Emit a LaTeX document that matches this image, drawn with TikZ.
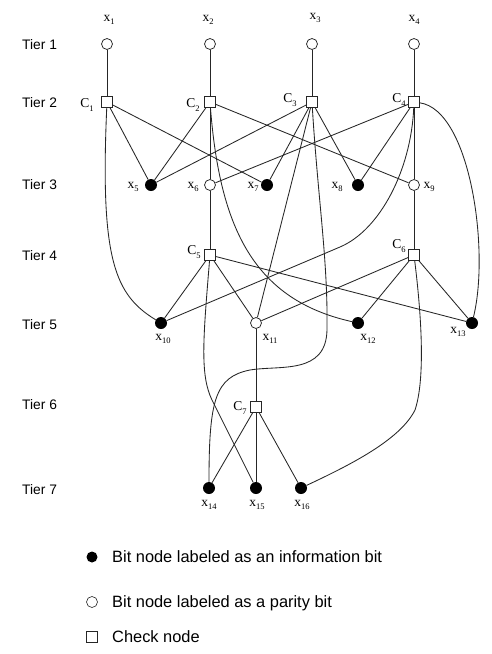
\documentclass[tikz,border=0pt]{standalone}
\usepackage{fontspec}
\setmainfont{Liberation Serif}
\newfontfamily\arialf{Liberation Sans}
\newcommand\lab[2]{#1\raisebox{-0.55ex}{\fontsize{8.5}{8.5}\selectfont #2}}
\begin{document}
\begin{tikzpicture}[x=1pt,y=-1pt]
\tikzset{
 bitw/.style={circle,draw=black!85,fill=white,line width=0.75pt,minimum size=11pt,inner sep=0pt},
 bitb/.style={circle,fill=black,minimum size=12pt,inner sep=0pt},
 chk/.style={rectangle,draw=black!85,fill=white,line width=0.75pt,minimum size=11pt,inner sep=0pt},
 conn/.style={draw=black!85,line width=0.85pt},
 lbl/.style={font=\fontsize{13.5}{15}\selectfont,inner sep=0pt},
 tier/.style={font=\arialf\fontsize{13.8}{16}\selectfont,anchor=base west,inner sep=0pt},
 leg/.style={font=\arialf\fontsize{16.4}{19}\selectfont,anchor=base west,inner sep=0pt}
}
\useasboundingbox (0,0) rectangle (491,654);
\fill[white] (0,0) rectangle (491,654);

% tier labels
\node[tier] (t1) at (22,49.8) {Tier 1};
\node[tier] (t2) at (22,107.8) {Tier 2};
\node[tier] (t3) at (22,189.8) {Tier 3};
\node[tier] (t4) at (22,260.8) {Tier 4};
\node[tier] (t5) at (22,329.8) {Tier 5};
\node[tier] (t6) at (22,409.8) {Tier 6};
\node[tier] (t7) at (22,494.8) {Tier 7};

% tier 1
\node[bitw] (b1) at (107,44) {};
\node[bitw] (b2) at (210,44) {};
\node[bitw] (b3) at (312,44) {};
\node[bitw] (b4) at (414,44) {};
% tier 2
\node[chk] (C1) at (107,102) {};
\node[chk] (C2) at (210,102) {};
\node[chk] (C3) at (312,102) {};
\node[chk] (C4) at (414,102) {};
% tier 3
\node[bitb] (x5) at (151,185) {};
\node[bitw] (x6) at (210,185) {};
\node[bitb] (x7) at (267,185) {};
\node[bitb] (x8) at (358,185) {};
\node[bitw] (x9) at (414,185) {};
% tier 4
\node[chk] (C5) at (210,255) {};
\node[chk] (C6) at (414,255) {};
% tier 5
\node[bitb] (x10) at (161,323) {};
\node[bitw] (x11) at (256,323) {};
\node[bitb] (x12) at (358,323) {};
\node[bitb] (x13) at (472,323) {};
% tier 6
\node[chk] (C7) at (256,407) {};
% tier 7
\node[bitb] (x14) at (209,488) {};
\node[bitb] (x15) at (256,488) {};
\node[bitb] (x16) at (301,488) {};

% labels
\node[lbl] (l1) at (109,20) {\lab{x}{1}};
\node[lbl] (l2) at (208,20) {\lab{x}{2}};
\node[lbl] (l3) at (315,18) {\lab{x}{3}};
\node[lbl] (l4) at (414,20) {\lab{x}{4}};
\node[lbl] (lc1) at (87,105) {\lab{C}{1}};
\node[lbl] (lc2) at (193,105) {\lab{C}{2}};
\node[lbl] (lc3) at (290,100) {\lab{C}{3}};
\node[lbl] (lc4) at (399,100) {\lab{C}{4}};
\node[lbl] (l5) at (133,187) {\lab{x}{5}};
\node[lbl] (l6) at (193,187) {\lab{x}{6}};
\node[lbl] (l7) at (253,187) {\lab{x}{7}};
\node[lbl] (l8) at (337,187) {\lab{x}{8}};
\node[lbl] (l9) at (429,187) {\lab{x}{9}};
\node[lbl] (lc5) at (194,252) {\lab{C}{5}};
\node[lbl] (lc6) at (399,246) {\lab{C}{6}};
\node[lbl] (l10) at (163,339) {\lab{x}{10}};
\node[lbl] (l11) at (270,339) {\lab{x}{11}};
\node[lbl] (l12) at (368,339) {\lab{x}{12}};
\node[lbl] (l13) at (458,332) {\lab{x}{13}};
\node[lbl] (lc7) at (240,408) {\lab{C}{7}};
\node[lbl] (l14) at (209,505) {\lab{x}{14}};
\node[lbl] (l15) at (257,505) {\lab{x}{15}};
\node[lbl] (l16) at (302,505) {\lab{x}{16}};

% straight connectors
\draw[conn] (b1) -- (C1);
\draw[conn] (b2) -- (C2);
\draw[conn] (b3) -- (C3);
\draw[conn] (b4) -- (C4);
\draw[conn] (C1) -- (x5);
\draw[conn] (C1) -- (x7);
\draw[conn] (C2) -- (x5);
\draw[conn] (C2) -- (x6);
\draw[conn] (C2) -- (x9);
\draw[conn] (C3) -- (x5);
\draw[conn] (C3) -- (x7);
\draw[conn] (C3) -- (x11);
\draw[conn] (C3) -- (x8);
\draw[conn] (C4) -- (x6);
\draw[conn] (C4) -- (x8);
\draw[conn] (C4) -- (x9);
\draw[conn] (x6) -- (C5);
\draw[conn] (x9) -- (C6);
\draw[conn] (C5) -- (x10);
\draw[conn] (C5) -- (x11);
\draw[conn] (C5) -- (x13);
\draw[conn] (C6) -- (x11);
\draw[conn] (C6) -- (x12);
\draw[conn] (C6) -- (x13);
\draw[conn] (x11) -- (C7);
\draw[conn] (C7) -- (x14);
\draw[conn] (C7) -- (x15);
\draw[conn] (C7) -- (x16);

% curved connectors
\draw[conn] (C1) .. controls (100,260) and (115,295) .. (x10);
\draw[conn] (C2) .. controls (220,230) and (255,300) .. (x12);
\draw[conn] (C3) .. controls (318,200) and (328,260) .. (327,330)
  .. controls (326,375) and (280,365) .. (250,370)
  .. controls (215,377) and (209,400) .. (x14);
\draw[conn] (C4) .. controls (411,170) and (380,230) .. (340,247) -- (x10);
\draw[conn] (C4) .. controls (470,110) and (490,250) .. (x13);
\draw[conn] (C5) .. controls (203,340) and (200,375) .. (212,400) -- (x15);
\draw[conn] (C6) .. controls (422,320) and (425,380) .. (415,410)
  .. controls (400,440) and (350,465) .. (x16);

% legend
\node[bitb,minimum size=11pt] (g1) at (92,557) {};
\node[leg] (lt1) at (112,562.7) {Bit node labeled as an information bit};
\node[bitw,line width=0.6pt] (g2) at (92,602) {};
\node[leg] (lt2) at (112,607.7) {Bit node labeled as a parity bit};
\node[chk,line width=0.6pt] (g3) at (92,637) {};
\node[leg] (lt3) at (112,642.7) {Check node};
\end{tikzpicture}
\end{document}
